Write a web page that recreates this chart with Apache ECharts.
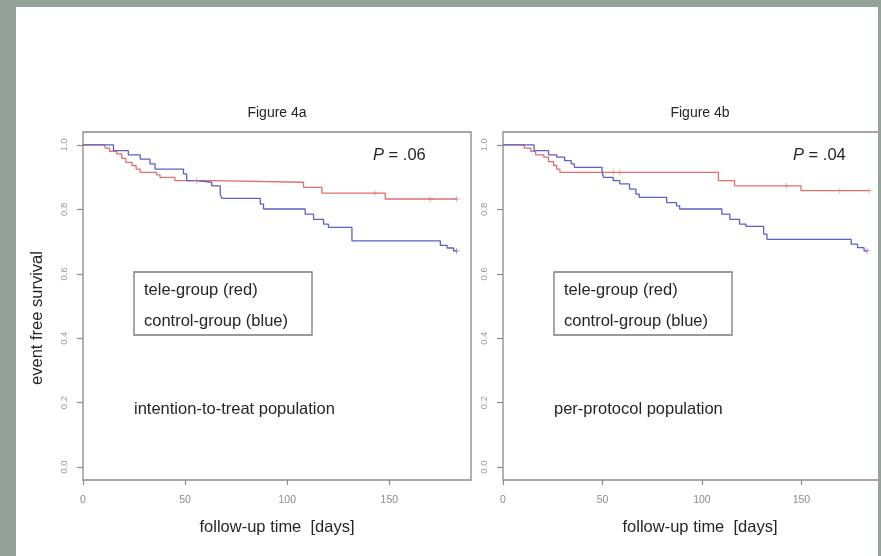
<!DOCTYPE html>
<html><head><meta charset="utf-8">
<script src="https://cdn.jsdelivr.net/npm/echarts@6/dist/echarts.min.js"></script>
<style>html,body{margin:0;padding:0;background:#92a398}#c{width:881px;height:556px}</style>
</head><body><div id="c"></div>
<script>
// ---- data ----
var xTicks = [0, 50, 100, 150];
var yTicks = [0, 0.2, 0.4, 0.6, 0.8, 1.0];

// Figure 4a : intention-to-treat
var teleA_t = [0, 10.8, 13, 16.5, 19, 21, 24, 26, 28, 36, 37.7, 45, 63, 108, 117, 148, 183];
var teleA_s = [1, 0.99, 0.98, 0.972, 0.958, 0.946, 0.936, 0.925, 0.915, 0.907, 0.899, 0.889, 0.884, 0.868, 0.850, 0.832, 0.832];
var teleA_censT = [55.7, 143, 170, 183];
var teleA_censS = [0.889, 0.850, 0.832, 0.832];
var ctrlA_t = [0, 14.9, 22.2, 28, 32.8, 35.3, 49.2, 50.8, 55.7, 63, 67.2, 68, 86.8, 88.4, 108.8, 112.9, 117.8, 120.2, 131.7, 175, 178.3, 181.5, 183];
var ctrlA_s = [1, 0.982, 0.969, 0.956, 0.941, 0.925, 0.910, 0.889, 0.884, 0.873, 0.847, 0.834, 0.816, 0.801, 0.785, 0.769, 0.754, 0.744, 0.702, 0.688, 0.680, 0.671, 0.671];
var ctrlA_censT = [183];
var ctrlA_censS = [0.671];

// Figure 4b : per-protocol
var teleB_t = [0, 10.7, 14, 16.4, 20.5, 22.9, 25.4, 27, 28.6, 108.3, 116.4, 149.8, 184];
var teleB_s = [1, 0.99, 0.98, 0.969, 0.962, 0.948, 0.936, 0.925, 0.915, 0.889, 0.873, 0.858, 0.858];
var teleB_censT = [55.4, 58.7, 142.4, 169.3, 184];
var teleB_censS = [0.915, 0.915, 0.873, 0.858, 0.858];
var ctrlB_t = [0, 15.6, 22.9, 27, 31, 34.3, 35.9, 49.8, 50.6, 55.4, 58.7, 63.6, 66.8, 68.5, 82.3, 87.2, 88.8, 110, 114, 118.9, 122.1, 131, 132.7, 175, 178.2, 181.5, 183];
var ctrlB_s = [1, 0.982, 0.969, 0.962, 0.951, 0.941, 0.930, 0.915, 0.899, 0.889, 0.879, 0.863, 0.847, 0.837, 0.821, 0.811, 0.801, 0.785, 0.769, 0.754, 0.747, 0.723, 0.707, 0.692, 0.681, 0.671, 0.671];
var ctrlB_censT = [183];
var ctrlB_censS = [0.671];

var titles = ['Figure 4a', 'Figure 4b'];
var pTexts = ['.06', '.04'];
var popTexts = ['intention-to-treat population', 'per-protocol population'];
var legendTexts = ['tele-group (red)', 'control-group (blue)'];
var xName = 'follow-up time  [days]';
var yName = 'event free survival';

// ---- build ----
function pairs(t, s) { return t.map(function (v, i) { return [v, s[i]]; }); }
var RED = '#e0706f', BLUE = '#5d60c6';
var FONT = '"Liberation Sans", Arial, sans-serif';
var TXT = '#262626';
var plus = 'path://M-0.12,-1L0.12,-1L0.12,1L-0.12,1Z M-1,-0.12L1,-0.12L1,0.12L-1,0.12Z';

var grids = [
  { left: 83, top: 132, width: 388, height: 348 },
  { left: 503, top: 132, width: 388, height: 348 }
];
grids.forEach(function (g) { g.show = true; g.borderColor = '#8a8a8a'; g.borderWidth = 1.3; g.backgroundColor = 'transparent'; });

function xAx(i) {
  return { type: 'value', gridIndex: i, min: 0, max: 190,
    axisLine: { show: false, onZero: false }, splitLine: { show: false },
    axisTick: { show: true, length: 5, customValues: xTicks, lineStyle: { color: '#8a8a8a', width: 1.2 } },
    axisLabel: { customValues: xTicks, color: '#8c8c8c', fontSize: 10.5, fontFamily: FONT, margin: 15 } };
}
function yAx(i) {
  return { type: 'value', gridIndex: i, min: -0.04, max: 1.04,
    axisLine: { show: false, onZero: false }, splitLine: { show: false },
    axisTick: { show: true, length: 6, customValues: yTicks, lineStyle: { color: '#8a8a8a', width: 1.2 } },
    axisLabel: { customValues: yTicks, rotate: 90, color: '#9a9a9a', fontSize: 9.5, fontFamily: FONT, margin: 14,
      formatter: function (v) { return v.toFixed(1); } } };
}
function km(name, t, s, color, i) {
  return { type: 'line', name: name, xAxisIndex: i, yAxisIndex: i, step: 'end', data: pairs(t, s),
    showSymbol: false, lineStyle: { color: color, width: 1.3 }, itemStyle: { color: color }, z: 3, silent: true };
}
function cens(t, s, color, i) {
  return { type: 'scatter', xAxisIndex: i, yAxisIndex: i, data: pairs(t, s), symbol: plus, symbolSize: 6,
    itemStyle: { color: color }, z: 4, silent: true };
}

var graphics = [
  { type: 'rect', shape: { x: 16, y: 7, width: 862, height: 549 }, style: { fill: '#ffffff' }, z: -100 }
];
var cx = [277, 700];
var legX = [134, 554];
for (var i = 0; i < 2; i++) {
  graphics.push({ type: 'text', style: { text: titles[i], x: cx[i], y: 113, textAlign: 'center', textVerticalAlign: 'middle', font: '14px ' + FONT, fill: TXT } });
  graphics.push({ type: 'text', style: { text: xName, x: cx[i], y: 527, textAlign: 'center', textVerticalAlign: 'middle', font: '16.5px ' + FONT, fill: TXT } });
  graphics.push({ type: 'text', style: { text: '{i|P} = ' + pTexts[i], x: (i === 0 ? 373 : 793), y: 155, textVerticalAlign: 'middle', font: '16.5px ' + FONT, fill: TXT,
    rich: { i: { fontStyle: 'italic', fontSize: 16.5, fontFamily: 'Liberation Sans', fill: TXT } } } });
  graphics.push({ type: 'rect', shape: { x: legX[i], y: 272, width: 178, height: 63 }, style: { fill: 'none', stroke: '#7a7a7a', lineWidth: 1.3 } });
  graphics.push({ type: 'text', style: { text: legendTexts[0], x: legX[i] + 10, y: 290, textVerticalAlign: 'middle', font: '16.5px ' + FONT, fill: TXT } });
  graphics.push({ type: 'text', style: { text: legendTexts[1], x: legX[i] + 10, y: 321, textVerticalAlign: 'middle', font: '16.5px ' + FONT, fill: TXT } });
  graphics.push({ type: 'text', style: { text: popTexts[i], x: legX[i], y: 409, textVerticalAlign: 'middle', font: '16.5px ' + FONT, fill: TXT } });
}
graphics.push({ type: 'text', x: 37, y: 318, rotation: Math.PI / 2, style: { text: yName, x: 0, y: 0, textAlign: 'center', textVerticalAlign: 'middle', font: '16.5px ' + FONT, fill: TXT } });
graphics.push({ type: 'rect', shape: { x: 878, y: 0, width: 10, height: 556 }, style: { fill: '#92a398' }, z: 100 });

var chart = echarts.init(document.getElementById('c'), null, { renderer: 'canvas' });
chart.setOption({
  backgroundColor: '#92a398',
  animation: false,
  grid: grids,
  xAxis: [xAx(0), xAx(1)],
  yAxis: [yAx(0), yAx(1)],
  series: [
    km('tele-group', teleA_t, teleA_s, RED, 0),
    km('control-group', ctrlA_t, ctrlA_s, BLUE, 0),
    cens(teleA_censT, teleA_censS, RED, 0),
    cens(ctrlA_censT, ctrlA_censS, BLUE, 0),
    km('tele-group', teleB_t, teleB_s, RED, 1),
    km('control-group', ctrlB_t, ctrlB_s, BLUE, 1),
    cens(teleB_censT, teleB_censS, RED, 1),
    cens(ctrlB_censT, ctrlB_censS, BLUE, 1)
  ],
  graphic: { elements: graphics }
});
</script></body></html>
